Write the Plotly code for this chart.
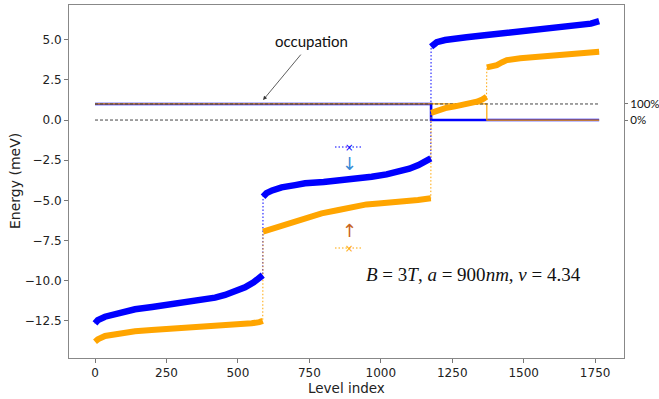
import plotly.graph_objects as go

# ---- data ----
blue_idx = [0, 10, 35, 82, 140, 200, 257, 315, 373, 420, 455, 490, 525, 555, 575, 587,
            588, 600, 620, 653, 700, 735, 800, 852, 910, 968, 1020, 1062, 1100, 1132, 1155, 1175,
            1176, 1185, 1196, 1225, 1254, 1300, 1371, 1430, 1488, 1550, 1604, 1650, 1698, 1735, 1764]
blue_E = [-12.65, -12.45, -12.24, -11.99, -11.78, -11.64, -11.51, -11.37, -11.2, -11.05, -10.89, -10.68, -10.41, -10.1, -9.85, -9.65,
          -4.77, -4.55, -4.38, -4.19, -4.05, -3.94, -3.85, -3.78, -3.66, -3.53, -3.38, -3.21, -3.03, -2.8, -2.62, -2.39,
          4.56, 4.72, 4.85, 4.98, 5.08, 5.15, 5.29, 5.4, 5.5, 5.6, 5.7, 5.8, 5.91, 6.0, 6.15]

orange_idx = [0, 10, 35, 82, 140, 198, 257, 315, 373, 432, 490, 548, 575, 587,
              588, 600, 630, 660, 688, 735, 765, 793, 852, 910, 950, 992, 1040, 1085, 1130, 1175,
              1176, 1200, 1231, 1260, 1289, 1315, 1336, 1355, 1370,
              1371, 1385, 1406, 1425, 1441, 1488, 1550, 1604, 1650, 1698, 1735, 1764]
orange_E = [-13.8, -13.65, -13.44, -13.27, -13.15, -13.07, -13.01, -12.96, -12.89, -12.82, -12.74, -12.65, -12.58, -12.5,
            -6.95, -6.88, -6.74, -6.62, -6.43, -6.12, -5.95, -5.81, -5.6, -5.35, -5.25, -5.19, -5.13, -5.08, -4.98, -4.87,
            0.45, 0.62, 0.77, 0.85, 0.93, 1.02, 1.14, 1.28, 1.45,
            3.28, 3.33, 3.42, 3.6, 3.73, 3.84, 3.92, 3.98, 4.03, 4.09, 4.17, 4.25]

# occupation (step functions: 100% then 0%)
blue_occ_idx = [0, 1176, 1764]
blue_occ = [1, 0, 0]
orange_occ_idx = [0, 1371, 1764]
orange_occ = [1, 0, 0]

ref_levels = [0, 1]
ref_labels = ["0%", "100%"]

x_ticks = [0, 250, 500, 750, 1000, 1250, 1500, 1750]
y_ticks = [-12.5, -10.0, -7.5, -5.0, -2.5, 0.0, 2.5, 5.0]
y_tick_labels = ["\u221212.5", "\u221210.0", "\u22127.5", "\u22125.0", "\u22122.5", "0.0", "2.5", "5.0"]

BLUE = "#0000ff"
ORANGE = "#ffa500"
DASH_REF = "3px,2px"
DOT = "1.5px,2px"


def segmented(xs, ys):
    """Break the line where consecutive levels jump (adjacent indices)."""
    ox, oy = [xs[0]], [ys[0]]
    for i in range(1, len(xs)):
        if xs[i] - xs[i - 1] == 1 and abs(ys[i] - ys[i - 1]) > 1:
            ox.append(None)
            oy.append(None)
        ox.append(xs[i])
        oy.append(ys[i])
    return ox, oy


fig = go.Figure()

# dashed reference line at 0
fig.add_trace(go.Scatter(x=[blue_idx[0], blue_idx[-1]], y=[ref_levels[0]] * 2, mode="lines",
                         line=dict(color="#444444", width=1, dash=DASH_REF),
                         hoverinfo="skip", showlegend=False))

# occupation lines
fig.add_trace(go.Scatter(x=blue_occ_idx, y=blue_occ, mode="lines", line_shape="hv",
                         line=dict(color=BLUE, width=2.6), showlegend=False))
fig.add_trace(go.Scatter(x=orange_occ_idx, y=orange_occ, mode="lines", line_shape="hv",
                         line=dict(color=ORANGE, width=1.2), showlegend=False))
# dashed at 100% on top
fig.add_trace(go.Scatter(x=[blue_idx[0], blue_idx[-1]], y=[ref_levels[1]] * 2, mode="lines",
                         line=dict(color="#444444", width=1, dash=DASH_REF),
                         hoverinfo="skip", showlegend=False))

# dotted connections (visible at the jumps)
for xs, ys, c in [(blue_idx, blue_E, BLUE), (orange_idx, orange_E, ORANGE)]:
    fig.add_trace(go.Scatter(x=xs, y=ys, mode="lines",
                             line=dict(color=c, width=1, dash=DOT), showlegend=False))

# thick bands of levels
for xs, ys, c, w in [(orange_idx, orange_E, ORANGE, 6), (blue_idx, blue_E, BLUE, 6.5)]:
    sx, sy = segmented(xs, ys)
    fig.add_trace(go.Scatter(x=sx, y=sy, mode="lines", connectgaps=False,
                             line=dict(color=c, width=w), showlegend=False))

# secondary axis for percentage labels
fig.add_trace(go.Scatter(x=[None], y=[None], yaxis="y2", showlegend=False))

YR = [-14.81, 7.16]
fig.update_layout(
    width=659, height=399,
    margin=dict(l=69, r=35, t=5, b=41, autoexpand=False),
    paper_bgcolor="white", plot_bgcolor="white",
    font=dict(family="DejaVu Sans", size=12, color="#222222"),
    xaxis=dict(range=[-91, 1851], tickvals=x_ticks, ticks="outside", ticklen=4,
               tickcolor="#777777", showline=True, linecolor="#888888", linewidth=1,
               mirror=True, showgrid=False, zeroline=False, automargin=False,
               ticklabelstandoff=0),
    yaxis=dict(range=YR, tickvals=y_ticks, ticktext=y_tick_labels, ticks="outside",
               ticklen=4, tickcolor="#777777", showline=True, linecolor="#888888",
               linewidth=1, mirror=True, showgrid=False, zeroline=False, automargin=False),
    yaxis2=dict(range=YR, overlaying="y", side="right", tickvals=ref_levels,
                ticktext=ref_labels, ticks="outside", ticklen=3, tickcolor="#777777",
                showgrid=False, zeroline=False, showline=False, automargin=False,
                tickfont=dict(family="Lato", size=11.5, color="#111111")),
    showlegend=False,
)

C = dict(xanchor="center", yanchor="middle", showarrow=False)

# axis titles
fig.add_annotation(x=(346 - 69) / 555, y=-(388 - 358) / 353, xref="paper", yref="paper",
                   text="Level index", font=dict(size=13.5), borderpad=0, **C)
fig.add_annotation(x=-(69 - 15) / 555, y=(358 - 181) / 353, xref="paper", yref="paper",
                   text="Energy (meV)", font=dict(size=14), textangle=-90, **C)

# annotation "occupation" with arrow
fig.add_annotation(x=(311 - 69) / 555, y=(358 - 41) / 353, xref="paper", yref="paper",
                   text="occupation", font=dict(family="Lato", size=15, color="#111111"), **C)
fig.add_annotation(x=588, y=1.24, xref="x", yref="y", text="", showarrow=True,
                   ax=39, ay=-47, arrowhead=2, arrowsize=1, arrowwidth=0.8,
                   arrowcolor="#333333")

# parameter text
fig.add_annotation(x=(473 - 69) / 555, y=(358 - 274) / 353, xref="paper", yref="paper",
                   text="<i>B</i> = 3<i>T</i>, <i>a</i> = 900<i>nm</i>, <i>\u03bd</i> = 4.34",
                   font=dict(family="Liberation Serif", size=19, color="#111111"), **C)

# manual spin legend
for py, c in [(147, BLUE), (248, ORANGE)]:
    yp = (358 - py) / 353
    fig.add_shape(type="line", xref="paper", yref="paper", x0=(335 - 69) / 555,
                  x1=(362 - 69) / 555, y0=yp, y1=yp,
                  line=dict(color=c, width=1.2, dash=DOT))
    fig.add_annotation(x=(349 - 69) / 555, y=yp, xref="paper", yref="paper", text="\u00d7",
                       font=dict(size=10, color=c), **C)
fig.add_annotation(x=(349 - 69) / 555, y=(358 - 164) / 353, xref="paper", yref="paper",
                   text="\u2193", font=dict(family="DejaVu Sans", size=18, color="#3a8bd6"), **C)
fig.add_annotation(x=(349 - 69) / 555, y=(358 - 230) / 353, xref="paper", yref="paper",
                   text="\u2191", font=dict(family="DejaVu Sans", size=18, color="#c8641e"), **C)

fig.write_html("out.html", config={"displayModeBar": False},
               post_script="document.body.style.margin='0';")
